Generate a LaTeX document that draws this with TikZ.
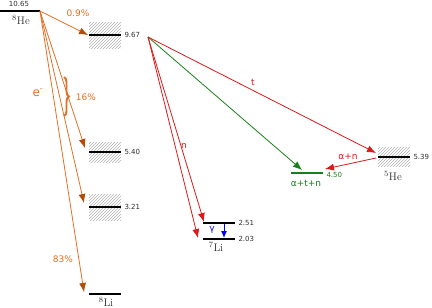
\documentclass[tikz,border=0pt]{standalone}
\usepackage{fontspec}
\setsansfont{DejaVu Sans}
\usetikzlibrary{arrows.meta,patterns,decorations.pathreplacing}
\definecolor{betaOr}{RGB}{226,112,36}
\definecolor{tipOr}{RGB}{176,76,6}
\definecolor{decRed}{RGB}{220,24,24}
\definecolor{decGrn}{RGB}{24,128,24}
\definecolor{numGr}{RGB}{50,45,45}

\begin{document}
\begin{tikzpicture}[x=1pt,y=-1pt,font=\sffamily]
  \tikzset{lvl/.style={line width=1.6pt,black},
    hatch/.style={pattern=north east lines,pattern color=gray!60,draw=none},
    num/.style={font=\sffamily\fontsize{7}{8}\selectfont,numGr,anchor=west},
    nuc/.style={font=\fontsize{11}{12}\selectfont,numGr},
    beta/.style={betaOr,line width=0.8pt,-{Latex[length=9pt,width=7pt,color=tipOr]}},
    red/.style={decRed,line width=0.8pt,-{Latex[length=9pt,width=7pt]}},
    lab/.style={font=\sffamily\fontsize{9}{10}\selectfont}}
  \useasboundingbox (0,0) rectangle (432,308);
  % unbound / broad levels
  \fill[hatch] (89,22) rectangle (121,48);
  \fill[hatch] (89,142) rectangle (121,162);
  \fill[hatch] (89,194) rectangle (121,220);
  \fill[hatch] (378,147) rectangle (410,166);
  % levels
  \draw[lvl] (0,11) coordinate (he8l) -- (40,11) coordinate (he8);
  \draw[lvl] (89,35) -- (121,35) coordinate (l967);
  \draw[lvl] (89,152) -- (121,152) coordinate (l540);
  \draw[lvl] (89,207) -- (121,207) coordinate (l321);
  \draw[lvl] (89,294) -- (121,294) coordinate (li8);
  \draw[lvl] (203,223) coordinate (l251a) -- (235,223) coordinate (l251);
  \draw[lvl] (203,239) coordinate (l203a) -- (235,239) coordinate (l203);
  \draw[lvl] (378,157) coordinate (he5a) -- (410,157) coordinate (he5);
  \draw[lvl,decGrn] (291,173) -- (323,173) coordinate (atn);
  % level numbers
  \node[num,anchor=south] (n1065) at (19,10) {10.65};
  \node[num] (n967) at (l967) {9.67};
  \node[num] (n540) at (l540) {5.40};
  \node[num] (n321) at (l321) {3.21};
  \node[num] (n251) at (l251) {2.51};
  \node[num] (n203) at (l203) {2.03};
  \node[num] (n539) at (he5) {5.39};
  \node[num,decGrn,yshift=-2pt] (n450) at (atn) {4.50};
  % nuclei
  \node[nuc] (he8n) at (21,20) {$^{8}$He};
  \node[nuc] (li8n) at (106,302) {$^{8}$Li};
  \node[nuc] (li7n) at (216,247) {$^{7}$Li};
  \node[nuc] (he5n) at (393,176) {$^{5}$He};
  \node[lab,decGrn] (atnl) at (306,183) {α+t+n};
  % beta decays of 8He
  \coordinate (b0) at (88,35);
  \coordinate (b1) at (85,148);
  \coordinate (b2) at (84,203);
  \coordinate (b3) at (84,292);
  \draw[beta] (he8) -- (b0);
  \draw[beta] (he8) -- (b1);
  \draw[beta] (he8) -- (b2);
  \draw[beta] (he8) -- (b3);
  \node[lab,betaOr] (p09) at (78,13) {0.9\%};
  \node[lab,betaOr] (p16) at (86,97) {16\%};
  \node[lab,betaOr] (p83) at (63,259) {83\%};
  \node[betaOr,font=\sffamily\fontsize{12}{13}\selectfont] (elec) at (38,93) {e\textsuperscript{-}};
  \draw[betaOr,line width=1.9pt,decorate,decoration={brace,amplitude=5pt}] (64,77) -- (64,116);
  % breakup of the 9.67 level
  \coordinate (src) at (148,37);
  \coordinate (t5) at (376,153);
  \coordinate (g1) at (302,170);
  \coordinate (n1) at (204,222);
  \coordinate (n2) at (198,238);
  \coordinate (an) at (325,169);
  \draw[red] (src) -- (t5) node[pos=0.46,above=1pt,lab] (tl) {t};
  \draw[decGrn,line width=0.8pt,-{Latex[length=9pt,width=7pt]}] (src) -- (g1);
  \draw[red] (src) -- (n1);
  \draw[red] (src) -- (n2);
  \node[lab,decRed] (nl) at (184,146) {n};
  \draw[red] (376,158) -- (an);
  \node[lab,decRed] (anl) at (348,157) {α+n};
  % gamma
  \draw[blue,line width=1pt,-{Latex[length=7pt,width=6pt]}] (224,224) -- (224,238);
  \node[lab,blue] (gam) at (212,230) {γ};
\end{tikzpicture}
\end{document}
